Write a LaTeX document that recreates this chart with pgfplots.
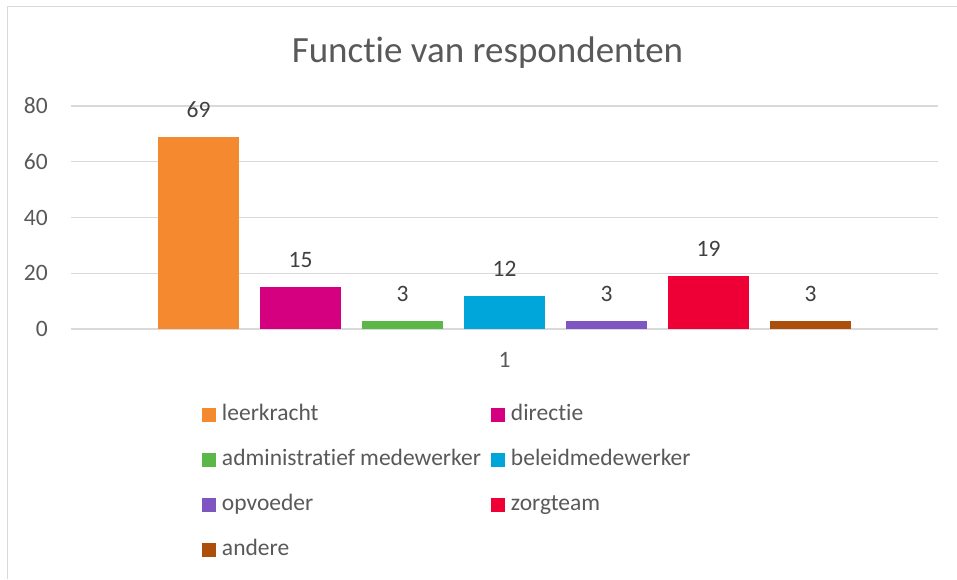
\documentclass[border=0pt]{standalone}
\usepackage{fontspec}
\setmainfont{Carlito}[Ligatures={NoCommon,NoRequired}, Contextuals={NoAlternate}]
\usepackage{pgfplots}
\pgfplotsset{compat=1.18}
\definecolor{c1}{HTML}{F4892F}
\definecolor{c2}{HTML}{D5007F}
\definecolor{c3}{HTML}{5BB747}
\definecolor{c4}{HTML}{00A6D9}
\definecolor{c5}{HTML}{7F56C1}
\definecolor{c6}{HTML}{EE0037}
\definecolor{c7}{HTML}{AB4F0B}
\definecolor{gridgray}{HTML}{D9D9D9}
\definecolor{tickgray}{HTML}{595959}
\definecolor{labelgray}{HTML}{404040}
\pgfplotsset{mybar/.style={ybar, bar width=81pt, bar shift=0pt, draw=none,
  legend image code/.code={\fill[##1] (0pt,-7pt) rectangle (14pt,7pt);}}}
\begin{document}
\begin{tikzpicture}
\useasboundingbox (0pt,0pt) rectangle (957pt,579pt);
\fill[white] (0pt,0pt) rectangle (957pt,579pt);
\draw[gridgray, line width=1pt] (7pt,0pt) -- (7pt,572pt) -- (957pt,572pt);
\begin{axis}[
  at={(71pt,250pt)}, anchor=south west,
  scale only axis, width=867pt, height=223pt,
  xmin=-1.25, xmax=7.25, ymin=0, ymax=80,
  ytick={0,20,40,60,80}, xtick={3}, xticklabels={1},
  ymajorgrids, grid style={color=gridgray, line width=1.2pt},
  axis line style={draw=none}, major tick length=0pt,
  /pgf/number format/assume math mode=true,
  tick label style={font=\fontsize{23.5}{28}\selectfont, color=tickgray},
  yticklabel style={anchor=east, inner sep=0pt, xshift=-23pt},
  xticklabel style={anchor=north, inner sep=0pt, yshift=-23pt},
  nodes near coords,
  every node near coord/.append style={font=\fontsize{23.5}{28}\selectfont, color=labelgray, anchor=south, inner sep=0pt, yshift=19pt},
  legend columns=2, legend cell align=left,
  legend style={at={(0.1511,-0.3363)}, anchor=north west, draw=none, fill=none,
    inner sep=0pt, outer sep=0pt, column sep=6pt, row sep=24pt,
    font=\fontsize{23.5}{28}\selectfont, text=tickgray,
    nodes={inner sep=0pt, text height=16pt, text depth=5pt, anchor=west}},
]
\addplot[mybar, fill=c1] coordinates {(0,69)};
\addlegendentry{\makebox[263pt][l]{leerkracht}}
\addplot[mybar, fill=c2] coordinates {(1,15)};
\addlegendentry{\makebox[263pt][l]{directie}}
\addplot[mybar, fill=c3] coordinates {(2,3)};
\addlegendentry{\makebox[263pt][l]{administratief medewerker}}
\addplot[mybar, fill=c4] coordinates {(3,12)};
\addlegendentry{\makebox[263pt][l]{beleidmedewerker}}
\addplot[mybar, fill=c5] coordinates {(4,3)};
\addlegendentry{\makebox[263pt][l]{opvoeder}}
\addplot[mybar, fill=c6] coordinates {(5,19)};
\addlegendentry{\makebox[263pt][l]{zorgteam}}
\addplot[mybar, fill=c7] coordinates {(6,3)};
\addlegendentry{\makebox[263pt][l]{andere}}
\end{axis}
\node[anchor=base, font=\fontsize{37}{44}\selectfont, text=tickgray] at (487.5pt,516pt) {Functie van respondenten};
\end{tikzpicture}
\end{document}
